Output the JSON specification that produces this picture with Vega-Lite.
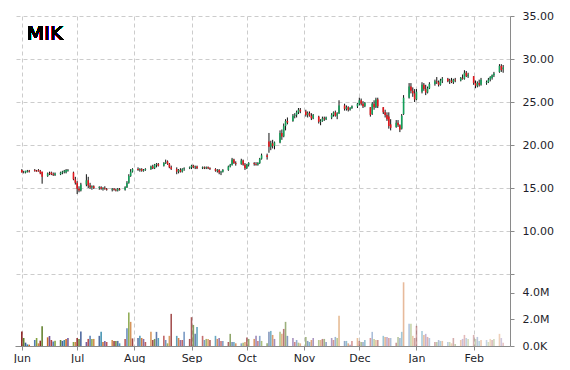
{
"$schema":"https://vega.github.io/schema/vega-lite/v6.json",
"padding":{"left":13,"top":10,"right":0,"bottom":0},
"background":"white",
"spacing":0,
"bounds":"flush",
"config":{"view":{"stroke":null},"font":"DejaVu Sans","axis":{"labelFont":"DejaVu Sans","labelFontSize":11,"labelColor":"#1e1e2a","domainColor":"#8a8a8a","tickColor":"#8a8a8a","gridColor":"#cccccc","gridDash":[4,3],"title":null}},
"data":{"values":[
{"d":"2015-06-01","o":17.1,"h":17.2,"l":16.8,"c":16.8,"v":1080000},
{"d":"2015-06-02","o":16.9,"h":17.0,"l":16.7,"c":16.9,"v":600000},
{"d":"2015-06-03","o":16.8,"h":17.0,"l":16.7,"c":17.0,"v":250000},
{"d":"2015-06-04","o":16.9,"h":17.1,"l":16.8,"c":17.0,"v":120000},
{"d":"2015-06-05","o":17.0,"h":17.1,"l":16.8,"c":16.9,"v":100000},
{"d":"2015-06-08","o":17.1,"h":17.2,"l":16.9,"c":17.0,"v":450000},
{"d":"2015-06-09","o":17.0,"h":17.1,"l":16.9,"c":16.9,"v":600000},
{"d":"2015-06-10","o":17.1,"h":17.2,"l":16.9,"c":17.0,"v":200000},
{"d":"2015-06-11","o":17.0,"h":17.1,"l":16.6,"c":16.7,"v":400000},
{"d":"2015-06-12","o":16.9,"h":16.9,"l":15.5,"c":16.3,"v":1480000},
{"d":"2015-06-15","o":16.4,"h":16.8,"l":16.3,"c":16.7,"v":650000},
{"d":"2015-06-16","o":16.7,"h":16.9,"l":16.5,"c":16.6,"v":750000},
{"d":"2015-06-17","o":16.8,"h":16.9,"l":16.5,"c":16.6,"v":450000},
{"d":"2015-06-18","o":16.6,"h":16.8,"l":16.4,"c":16.5,"v":330000},
{"d":"2015-06-19","o":16.5,"h":16.8,"l":16.4,"c":16.7,"v":400000},
{"d":"2015-06-22","o":16.6,"h":16.9,"l":16.5,"c":16.8,"v":450000},
{"d":"2015-06-23","o":16.8,"h":17.0,"l":16.6,"c":16.9,"v":380000},
{"d":"2015-06-24","o":16.9,"h":17.1,"l":16.7,"c":17.0,"v":450000},
{"d":"2015-06-25","o":16.8,"h":17.2,"l":16.7,"c":17.1,"v":530000},
{"d":"2015-06-26","o":17.0,"h":17.2,"l":16.9,"c":17.1,"v":600000},
{"d":"2015-06-29","o":16.8,"h":16.9,"l":15.9,"c":16.0,"v":300000},
{"d":"2015-06-30","o":16.0,"h":16.3,"l":15.4,"c":15.6,"v":300000},
{"d":"2015-07-01","o":15.6,"h":15.8,"l":14.3,"c":14.9,"v":600000},
{"d":"2015-07-02","o":14.9,"h":15.2,"l":14.5,"c":14.7,"v":530000},
{"d":"2015-07-03","o":14.7,"h":15.6,"l":14.6,"c":15.4,"v":1080000},
{"d":"2015-07-06","o":15.4,"h":16.6,"l":15.2,"c":15.9,"v":300000},
{"d":"2015-07-07","o":15.9,"h":16.3,"l":15.0,"c":15.3,"v":530000},
{"d":"2015-07-08","o":15.3,"h":15.6,"l":14.9,"c":15.1,"v":760000},
{"d":"2015-07-09","o":15.1,"h":15.3,"l":14.8,"c":15.2,"v":530000},
{"d":"2015-07-10","o":15.2,"h":15.3,"l":14.9,"c":15.0,"v":530000},
{"d":"2015-07-13","o":15.0,"h":15.2,"l":14.8,"c":15.1,"v":760000},
{"d":"2015-07-14","o":15.1,"h":15.2,"l":14.8,"c":14.9,"v":1060000},
{"d":"2015-07-15","o":14.9,"h":15.1,"l":14.7,"c":15.0,"v":300000},
{"d":"2015-07-16","o":15.0,"h":15.2,"l":14.8,"c":14.9,"v":380000},
{"d":"2015-07-17","o":14.9,"h":15.0,"l":14.7,"c":14.8,"v":300000},
{"d":"2015-07-20","o":14.8,"h":15.0,"l":14.6,"c":14.9,"v":450000},
{"d":"2015-07-21","o":14.9,"h":15.0,"l":14.7,"c":14.8,"v":380000},
{"d":"2015-07-22","o":14.8,"h":14.9,"l":14.6,"c":14.7,"v":380000},
{"d":"2015-07-23","o":14.7,"h":15.0,"l":14.6,"c":14.9,"v":380000},
{"d":"2015-07-24","o":14.9,"h":15.0,"l":14.7,"c":14.8,"v":200000},
{"d":"2015-07-27","o":14.8,"h":15.2,"l":14.7,"c":15.1,"v":530000},
{"d":"2015-07-28","o":15.1,"h":15.8,"l":15.0,"c":15.6,"v":1330000},
{"d":"2015-07-29","o":15.6,"h":16.6,"l":15.5,"c":16.4,"v":2520000},
{"d":"2015-07-30","o":16.4,"h":17.2,"l":16.3,"c":16.9,"v":1810000},
{"d":"2015-07-31","o":16.9,"h":17.3,"l":16.8,"c":17.2,"v":570000},
{"d":"2015-08-03","o":17.2,"h":17.4,"l":17.0,"c":17.1,"v":600000},
{"d":"2015-08-04","o":17.1,"h":17.3,"l":16.9,"c":17.2,"v":760000},
{"d":"2015-08-05","o":17.2,"h":17.3,"l":16.9,"c":17.0,"v":600000},
{"d":"2015-08-06","o":17.0,"h":17.2,"l":16.9,"c":17.1,"v":530000},
{"d":"2015-08-07","o":17.1,"h":17.3,"l":17.0,"c":17.2,"v":300000},
{"d":"2015-08-10","o":17.2,"h":17.6,"l":17.1,"c":17.5,"v":1060000},
{"d":"2015-08-11","o":17.5,"h":17.7,"l":17.2,"c":17.3,"v":450000},
{"d":"2015-08-12","o":17.3,"h":17.8,"l":17.2,"c":17.7,"v":530000},
{"d":"2015-08-13","o":17.7,"h":17.9,"l":17.4,"c":17.8,"v":1060000},
{"d":"2015-08-14","o":17.8,"h":17.9,"l":17.5,"c":17.6,"v":600000},
{"d":"2015-08-17","o":17.6,"h":18.0,"l":17.5,"c":17.9,"v":760000},
{"d":"2015-08-18","o":17.9,"h":18.3,"l":17.8,"c":18.0,"v":450000},
{"d":"2015-08-19","o":18.1,"h":18.2,"l":17.7,"c":17.8,"v":200000},
{"d":"2015-08-20","o":17.8,"h":17.9,"l":17.3,"c":17.4,"v":760000},
{"d":"2015-08-21","o":17.4,"h":17.6,"l":17.1,"c":17.2,"v":2410000},
{"d":"2015-08-24","o":17.2,"h":17.4,"l":16.6,"c":16.9,"v":760000},
{"d":"2015-08-25","o":16.9,"h":17.2,"l":16.7,"c":17.1,"v":600000},
{"d":"2015-08-26","o":17.1,"h":17.3,"l":16.8,"c":16.9,"v":450000},
{"d":"2015-08-27","o":16.9,"h":17.3,"l":16.8,"c":17.2,"v":450000},
{"d":"2015-08-28","o":17.2,"h":17.4,"l":17.0,"c":17.3,"v":1060000},
{"d":"2015-08-31","o":17.3,"h":17.5,"l":17.2,"c":17.4,"v":530000},
{"d":"2015-09-01","o":17.4,"h":17.7,"l":17.2,"c":17.6,"v":2160000},
{"d":"2015-09-02","o":17.6,"h":17.7,"l":17.3,"c":17.4,"v":1580000},
{"d":"2015-09-03","o":17.4,"h":17.6,"l":17.2,"c":17.5,"v":910000},
{"d":"2015-09-04","o":17.5,"h":17.6,"l":17.2,"c":17.3,"v":1430000},
{"d":"2015-09-07","o":17.3,"h":17.5,"l":17.2,"c":17.4,"v":760000},
{"d":"2015-09-08","o":17.4,"h":17.5,"l":17.2,"c":17.3,"v":450000},
{"d":"2015-09-09","o":17.3,"h":17.5,"l":17.2,"c":17.4,"v":530000},
{"d":"2015-09-10","o":17.4,"h":17.5,"l":17.2,"c":17.3,"v":530000},
{"d":"2015-09-11","o":17.3,"h":17.4,"l":17.1,"c":17.2,"v":450000},
{"d":"2015-09-14","o":17.2,"h":17.3,"l":16.9,"c":17.0,"v":760000},
{"d":"2015-09-15","o":17.0,"h":17.2,"l":16.8,"c":17.1,"v":530000},
{"d":"2015-09-16","o":17.1,"h":17.2,"l":16.6,"c":16.8,"v":600000},
{"d":"2015-09-17","o":16.8,"h":17.0,"l":16.5,"c":16.9,"v":380000},
{"d":"2015-09-18","o":16.9,"h":17.2,"l":16.8,"c":17.1,"v":380000},
{"d":"2015-09-21","o":17.1,"h":17.6,"l":17.0,"c":17.5,"v":300000},
{"d":"2015-09-22","o":17.5,"h":17.8,"l":17.4,"c":17.7,"v":910000},
{"d":"2015-09-23","o":17.7,"h":18.5,"l":17.6,"c":18.3,"v":300000},
{"d":"2015-09-24","o":18.3,"h":18.4,"l":17.8,"c":17.9,"v":300000},
{"d":"2015-09-25","o":17.9,"h":18.1,"l":17.6,"c":17.8,"v":200000},
{"d":"2015-09-28","o":17.8,"h":18.4,"l":17.7,"c":18.2,"v":200000},
{"d":"2015-09-29","o":18.2,"h":18.3,"l":17.6,"c":17.7,"v":250000},
{"d":"2015-09-30","o":17.7,"h":17.9,"l":17.1,"c":17.3,"v":300000},
{"d":"2015-10-01","o":17.3,"h":17.8,"l":17.2,"c":17.7,"v":630000},
{"d":"2015-10-02","o":17.7,"h":18.0,"l":17.5,"c":17.9,"v":530000},
{"d":"2015-10-05","o":17.9,"h":18.0,"l":17.6,"c":17.8,"v":530000},
{"d":"2015-10-06","o":17.8,"h":18.0,"l":17.6,"c":17.7,"v":760000},
{"d":"2015-10-07","o":17.7,"h":18.0,"l":17.6,"c":17.9,"v":380000},
{"d":"2015-10-08","o":17.9,"h":18.5,"l":17.8,"c":18.4,"v":760000},
{"d":"2015-10-09","o":18.4,"h":19.0,"l":18.3,"c":18.8,"v":380000},
{"d":"2015-10-12","o":18.8,"h":19.0,"l":18.3,"c":18.6,"v":200000},
{"d":"2015-10-13","o":20.4,"h":21.4,"l":19.1,"c":19.8,"v":1060000},
{"d":"2015-10-14","o":19.8,"h":20.5,"l":19.4,"c":20.2,"v":1130000},
{"d":"2015-10-15","o":20.2,"h":20.6,"l":19.6,"c":19.9,"v":830000},
{"d":"2015-10-16","o":19.9,"h":20.4,"l":19.5,"c":20.3,"v":530000},
{"d":"2015-10-19","o":20.3,"h":21.7,"l":20.2,"c":21.4,"v":1060000},
{"d":"2015-10-20","o":21.4,"h":21.8,"l":20.6,"c":21.0,"v":910000},
{"d":"2015-10-21","o":21.0,"h":22.5,"l":20.9,"c":22.2,"v":1280000},
{"d":"2015-10-22","o":22.2,"h":23.0,"l":21.7,"c":22.8,"v":1810000},
{"d":"2015-10-23","o":22.8,"h":23.2,"l":22.4,"c":22.6,"v":760000},
{"d":"2015-10-26","o":22.8,"h":23.6,"l":22.7,"c":23.4,"v":600000},
{"d":"2015-10-27","o":23.4,"h":23.7,"l":23.1,"c":23.5,"v":300000},
{"d":"2015-10-28","o":23.5,"h":24.0,"l":23.2,"c":23.8,"v":450000},
{"d":"2015-10-29","o":23.8,"h":24.3,"l":23.6,"c":24.1,"v":250000},
{"d":"2015-10-30","o":24.1,"h":24.3,"l":23.7,"c":23.9,"v":200000},
{"d":"2015-11-02","o":23.9,"h":24.1,"l":23.3,"c":23.5,"v":680000},
{"d":"2015-11-03","o":23.5,"h":23.9,"l":23.2,"c":23.7,"v":380000},
{"d":"2015-11-04","o":23.7,"h":23.9,"l":23.3,"c":23.4,"v":300000},
{"d":"2015-11-05","o":23.4,"h":23.7,"l":22.9,"c":23.1,"v":450000},
{"d":"2015-11-06","o":23.1,"h":23.6,"l":23.0,"c":23.5,"v":600000},
{"d":"2015-11-09","o":23.3,"h":23.4,"l":22.5,"c":22.7,"v":450000},
{"d":"2015-11-10","o":22.7,"h":23.0,"l":22.3,"c":22.8,"v":450000},
{"d":"2015-11-11","o":22.8,"h":23.3,"l":22.7,"c":23.1,"v":530000},
{"d":"2015-11-12","o":23.1,"h":23.3,"l":22.8,"c":23.0,"v":530000},
{"d":"2015-11-13","o":23.0,"h":23.3,"l":22.9,"c":23.2,"v":300000},
{"d":"2015-11-16","o":23.2,"h":23.7,"l":23.0,"c":23.5,"v":600000},
{"d":"2015-11-17","o":23.5,"h":23.9,"l":23.3,"c":23.8,"v":450000},
{"d":"2015-11-18","o":23.8,"h":24.0,"l":23.3,"c":23.4,"v":680000},
{"d":"2015-11-19","o":23.4,"h":23.8,"l":23.0,"c":23.7,"v":600000},
{"d":"2015-11-20","o":23.7,"h":25.2,"l":23.6,"c":24.6,"v":2260000},
{"d":"2015-11-23","o":24.6,"h":24.8,"l":24.0,"c":24.2,"v":380000},
{"d":"2015-11-24","o":24.2,"h":24.6,"l":24.0,"c":24.4,"v":380000},
{"d":"2015-11-25","o":24.4,"h":24.5,"l":23.9,"c":24.1,"v":200000},
{"d":"2015-11-26","o":24.1,"h":24.4,"l":24.0,"c":24.3,"v":100000},
{"d":"2015-11-27","o":24.3,"h":24.6,"l":24.2,"c":24.5,"v":380000},
{"d":"2015-11-30","o":24.5,"h":24.9,"l":24.3,"c":24.8,"v":600000},
{"d":"2015-12-01","o":24.8,"h":25.5,"l":24.6,"c":25.2,"v":380000},
{"d":"2015-12-02","o":25.2,"h":25.4,"l":24.6,"c":24.8,"v":300000},
{"d":"2015-12-03","o":24.8,"h":25.1,"l":24.3,"c":24.5,"v":300000},
{"d":"2015-12-04","o":24.5,"h":25.0,"l":24.4,"c":24.9,"v":450000},
{"d":"2015-12-07","o":24.4,"h":24.4,"l":23.3,"c":23.5,"v":600000},
{"d":"2015-12-08","o":23.6,"h":25.0,"l":23.5,"c":24.8,"v":1060000},
{"d":"2015-12-09","o":24.8,"h":25.2,"l":24.1,"c":24.4,"v":530000},
{"d":"2015-12-10","o":24.4,"h":25.5,"l":24.3,"c":25.3,"v":450000},
{"d":"2015-12-11","o":25.3,"h":25.5,"l":24.3,"c":24.5,"v":450000},
{"d":"2015-12-14","o":24.4,"h":24.4,"l":23.6,"c":23.8,"v":760000},
{"d":"2015-12-15","o":23.8,"h":24.1,"l":23.2,"c":23.5,"v":680000},
{"d":"2015-12-16","o":23.5,"h":23.8,"l":22.8,"c":23.0,"v":680000},
{"d":"2015-12-17","o":23.3,"h":23.8,"l":21.9,"c":22.2,"v":600000},
{"d":"2015-12-18","o":22.4,"h":23.0,"l":21.7,"c":22.0,"v":600000},
{"d":"2015-12-21","o":22.1,"h":22.9,"l":22.0,"c":22.6,"v":250000},
{"d":"2015-12-22","o":22.6,"h":22.9,"l":22.1,"c":22.3,"v":680000},
{"d":"2015-12-23","o":22.3,"h":22.4,"l":21.5,"c":21.8,"v":600000},
{"d":"2015-12-24","o":21.9,"h":23.6,"l":21.8,"c":23.4,"v":1060000},
{"d":"2015-12-25","o":23.6,"h":25.8,"l":23.5,"c":25.5,"v":4780000},
{"d":"2015-12-28","o":25.5,"h":27.2,"l":25.4,"c":26.8,"v":1660000},
{"d":"2015-12-29","o":26.8,"h":27.2,"l":26.0,"c":26.3,"v":1660000},
{"d":"2015-12-30","o":26.3,"h":26.7,"l":25.6,"c":26.0,"v":760000},
{"d":"2015-12-31","o":26.0,"h":26.5,"l":25.0,"c":25.3,"v":600000},
{"d":"2016-01-01","o":25.3,"h":26.5,"l":25.2,"c":26.2,"v":1510000},
{"d":"2016-01-04","o":26.2,"h":27.3,"l":26.0,"c":27.0,"v":1130000},
{"d":"2016-01-05","o":27.0,"h":27.2,"l":26.3,"c":26.5,"v":830000},
{"d":"2016-01-06","o":26.5,"h":27.0,"l":25.8,"c":26.1,"v":910000},
{"d":"2016-01-07","o":26.1,"h":26.8,"l":26.0,"c":26.6,"v":680000},
{"d":"2016-01-08","o":26.6,"h":27.3,"l":26.5,"c":27.1,"v":600000},
{"d":"2016-01-11","o":27.1,"h":27.6,"l":26.9,"c":27.4,"v":300000},
{"d":"2016-01-12","o":27.4,"h":27.9,"l":27.1,"c":27.3,"v":300000},
{"d":"2016-01-13","o":27.3,"h":27.5,"l":26.8,"c":27.0,"v":450000},
{"d":"2016-01-14","o":27.0,"h":27.7,"l":26.9,"c":27.5,"v":380000},
{"d":"2016-01-15","o":27.5,"h":27.9,"l":27.2,"c":27.7,"v":380000},
{"d":"2016-01-18","o":27.7,"h":27.8,"l":27.3,"c":27.4,"v":300000},
{"d":"2016-01-19","o":27.4,"h":27.7,"l":27.1,"c":27.5,"v":300000},
{"d":"2016-01-20","o":27.5,"h":27.8,"l":27.2,"c":27.3,"v":200000},
{"d":"2016-01-21","o":27.3,"h":27.7,"l":27.1,"c":27.6,"v":600000},
{"d":"2016-01-22","o":27.6,"h":27.8,"l":27.3,"c":27.5,"v":150000},
{"d":"2016-01-25","o":27.5,"h":27.9,"l":27.4,"c":27.8,"v":450000},
{"d":"2016-01-26","o":27.8,"h":28.2,"l":27.6,"c":27.7,"v":530000},
{"d":"2016-01-27","o":27.7,"h":28.7,"l":27.6,"c":28.4,"v":830000},
{"d":"2016-01-28","o":28.4,"h":28.6,"l":27.9,"c":28.0,"v":600000},
{"d":"2016-01-29","o":28.0,"h":28.4,"l":27.8,"c":28.2,"v":530000},
{"d":"2016-02-01","o":28.0,"h":28.0,"l":27.0,"c":27.2,"v":830000},
{"d":"2016-02-02","o":27.2,"h":27.5,"l":26.6,"c":26.9,"v":530000},
{"d":"2016-02-03","o":26.9,"h":27.4,"l":26.7,"c":27.2,"v":680000},
{"d":"2016-02-04","o":27.2,"h":27.6,"l":26.8,"c":27.0,"v":380000},
{"d":"2016-02-05","o":27.0,"h":27.8,"l":26.9,"c":27.6,"v":450000},
{"d":"2016-02-08","o":27.2,"h":27.5,"l":27.0,"c":27.3,"v":450000},
{"d":"2016-02-09","o":27.3,"h":27.8,"l":27.2,"c":27.6,"v":300000},
{"d":"2016-02-10","o":27.6,"h":28.0,"l":27.4,"c":27.9,"v":530000},
{"d":"2016-02-11","o":27.8,"h":28.2,"l":27.6,"c":28.1,"v":450000},
{"d":"2016-02-12","o":28.1,"h":28.5,"l":27.9,"c":28.3,"v":530000},
{"d":"2016-02-15","o":28.5,"h":29.4,"l":28.4,"c":29.2,"v":910000},
{"d":"2016-02-16","o":29.2,"h":29.4,"l":28.5,"c":28.7,"v":600000},
{"d":"2016-02-17","o":28.8,"h":29.3,"l":28.4,"c":29.0,"v":250000}
]},
"vconcat":[
{"width":495,"height":258,
 "layer":[
  {"mark":{"type":"rule","color":"#111111","strokeWidth":1},
   "encoding":{
    "x":{"field":"d","type":"temporal","scale":{"type":"utc","domain":[{"year":2015,"month":5,"date":31,"utc":true},{"year":2016,"month":2,"date":18,"utc":true}]},"axis":{"tickCount":"month","grid":true,"labels":false,"ticks":false,"domain":false}},
    "y":{"field":"l","type":"quantitative","scale":{"domain":[5,35],"nice":false,"zero":false},"axis":{"orient":"right","values":[5,10,15,20,25,30,35],"labelExpr":"datum.value == 5 ? '' : format(datum.value, '.2f')","grid":true,"tickSize":4,"labelPadding":8}},
    "y2":{"field":"h"}}},
  {"mark":{"type":"bar","size":1.6},
   "encoding":{
    "x":{"field":"d","type":"temporal"},
    "y":{"field":"o","type":"quantitative"},
    "y2":{"field":"c"},
    "color":{"condition":{"test":"datum.c < datum.o","value":"#e5151b"},"value":"#13a059"}}},
  {"mark":{"type":"text","text":"MIK","align":"left","baseline":"middle","fontSize":20,"fontWeight":"normal","font":"DejaVu Sans","color":"#000000"},
   "encoding":{
    "x":{"datum":{"year":2015,"month":6,"date":3,"hours":17,"utc":true},"type":"temporal"},
    "y":{"datum":32.9,"type":"quantitative"}}}
 ]},
{"width":495,"height":72,
 "mark":{"type":"bar","size":1.6},
 "encoding":{
  "x":{"field":"d","type":"temporal","scale":{"type":"utc","domain":[{"year":2015,"month":5,"date":31,"utc":true},{"year":2016,"month":2,"date":18,"utc":true}]},"axis":{"tickCount":"month","format":"%b","grid":true,"tickSize":4,"labelPadding":2,"labelFontSize":11}},
  "y":{"field":"v","type":"quantitative","scale":{"domain":[0,5400000],"nice":false},"axis":{"orient":"right","values":[0,2000000,4000000],"labelExpr":"datum.value == 0 ? '0.0K' : format(datum.value / 1000000, '.1f') + 'M'","grid":false,"tickSize":4,"labelPadding":8}},
  "color":{"field":"d","timeUnit":"utcdate","type":"nominal","scale":{"range":["#8c2323","#5f7f2a","#3b5a96","#2e86a8","#c8641e","#6b4b94","#b03c3c","#4f79b0","#7f9f3a","#d0803a"]},"legend":null},
  "opacity":{"field":"d","type":"temporal","scale":{"range":[1,0.3]},"legend":null}
 }}
]
}
